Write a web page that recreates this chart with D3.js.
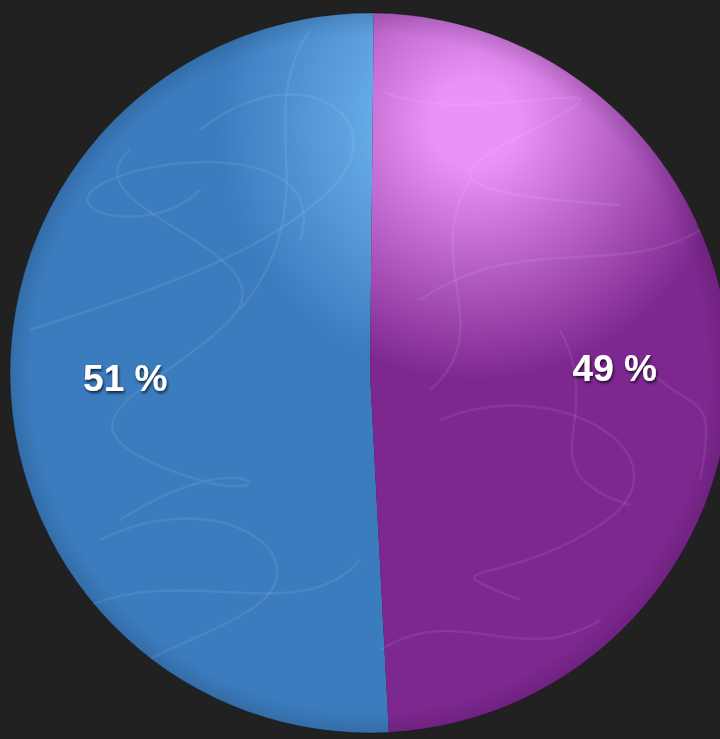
<!DOCTYPE html>
<html>
<head>
<meta charset="utf-8">
<script src="https://cdn.jsdelivr.net/npm/d3@7"></script>
<style>
  html, body { margin: 0; padding: 0; background: #212121; }
  svg { display: block; }
</style>
</head>
<body>
<div id="chart"></div>
<script>
const width = 720,
      height = 739;

const cx = 370,
      cy = 373,
      radius = 360;

// values
const categories = ["A", "B"]
const values = [51, 49]
const labels = ["51 %", "49 %"]
const baseColors = ["#3b7cbf", "#7d2790"]
const lightColors = ["#74bcf4", "#ea92f7"]

const pie = d3.pie()
              .sort(null)
              .startAngle(Math.PI - 3 * Math.PI / 180)
              .endAngle(3 * Math.PI - 3 * Math.PI / 180)
              .value(d => d)

const arc = d3.arc()
              .innerRadius(0)
              .outerRadius(radius)

const labelArc = d3.arc()
                   .innerRadius(radius * 0.68)
                   .outerRadius(radius * 0.68)

const svg = d3.select("#chart")
  .append("svg")
    .attr("width", width)
    .attr("height", height)

svg.append("rect")
  .attr("width", width)
  .attr("height", height)
  .attr("fill", "#212121")

const defs = svg.append("defs")

// glossy highlight, same spot for both slices (coords inside the centred group)
categories.forEach((c, i) => {
  const gr = defs.append("radialGradient")
    .attr("id", "grad" + i)
    .attr("gradientUnits", "userSpaceOnUse")
    .attr("cx", 105)
    .attr("cy", -250)
    .attr("r", 430)
  gr.append("stop").attr("offset", 0).attr("stop-color", lightColors[i])
  gr.append("stop").attr("offset", 0.1).attr("stop-color", lightColors[i])
  gr.append("stop").attr("offset", 0.6).attr("stop-color", baseColors[i])
  gr.append("stop").attr("offset", 1).attr("stop-color", baseColors[i])
})

const rim = defs.append("radialGradient")
  .attr("id", "rim")
  .attr("gradientUnits", "userSpaceOnUse")
  .attr("cx", cx).attr("cy", cy).attr("r", radius)
rim.append("stop").attr("offset", 0.94).attr("stop-color", "#000").attr("stop-opacity", 0)
rim.append("stop").attr("offset", 1).attr("stop-color", "#000").attr("stop-opacity", 0.12)

defs.append("clipPath").attr("id", "disc")
  .append("circle").attr("cx", cx).attr("cy", cy).attr("r", radius)

const shadow = defs.append("filter").attr("id", "txtShadow")
  .attr("x", "-20%").attr("y", "-30%").attr("width", "140%").attr("height", "160%")
shadow.append("feDropShadow")
  .attr("dx", 1).attr("dy", 2)
  .attr("stdDeviation", 1.8)
  .attr("flood-color", "#000")
  .attr("flood-opacity", 0.75)

const g = svg.append("g")
  .attr("transform", `translate(${cx},${cy})`)

g.selectAll("path.slice")
  .data(pie(values))
  .enter()
  .append("path")
    .attr("class", "slice")
    .attr("d", arc)
    .attr("fill", (d, i) => `url(#grad${i})`)

// darker rim
svg.append("circle")
  .attr("cx", cx).attr("cy", cy).attr("r", radius)
  .attr("fill", "url(#rim)")
  .attr("stroke", "rgba(0,0,0,0.3)")
  .attr("stroke-width", 1)

// faint scribble texture
const scribbles = [
  "M130 150 C 60 210, 300 250, 230 320 S 40 420, 170 470 S 260 430, 120 520",
  "M30 330 C 120 300, 260 260, 330 190 S 300 50, 200 130",
  "M100 540 C 220 480, 330 560, 250 610 S 80 660, 190 710",
  "M310 30 C 250 120, 330 200, 240 310",
  "M380 90 C 460 130, 640 70, 560 115 S 380 190, 620 205",
  "M420 300 C 520 230, 620 280, 700 230",
  "M440 420 C 560 370, 700 460, 600 525 S 420 560, 520 600",
  "M560 330 C 610 420, 520 470, 630 505",
  "M380 650 C 460 600, 520 670, 600 620",
  "M80 610 C 180 560, 300 630, 360 560",
  "M470 180 C 420 260, 500 330, 430 390",
  "M640 360 C 690 420, 720 380, 700 480",
  "M200 190 C 150 240, 40 210, 110 180 S 330 150, 300 240"
]
svg.append("g")
  .attr("clip-path", "url(#disc)")
  .selectAll("path")
  .data(scribbles)
  .enter()
  .append("path")
    .attr("d", d => d)
    .attr("fill", "none")
    .attr("stroke", "#fff")
    .attr("stroke-opacity", 0.08)
    .attr("stroke-width", 2.5)

g.selectAll("text")
  .data(pie(values))
  .enter()
  .append("text")
    .attr("transform", d => `translate(${labelArc.centroid(d)})`)
    .attr("dy", "0.36em")
    .attr("text-anchor", "middle")
    .attr("fill", "#fff")
    .attr("font-family", "'Liberation Sans', Arial, Helvetica, sans-serif")
    .attr("font-weight", "bold")
    .attr("font-size", 37)
    .attr("filter", "url(#txtShadow)")
    .text((d, i) => labels[i])
</script>
</body>
</html>
